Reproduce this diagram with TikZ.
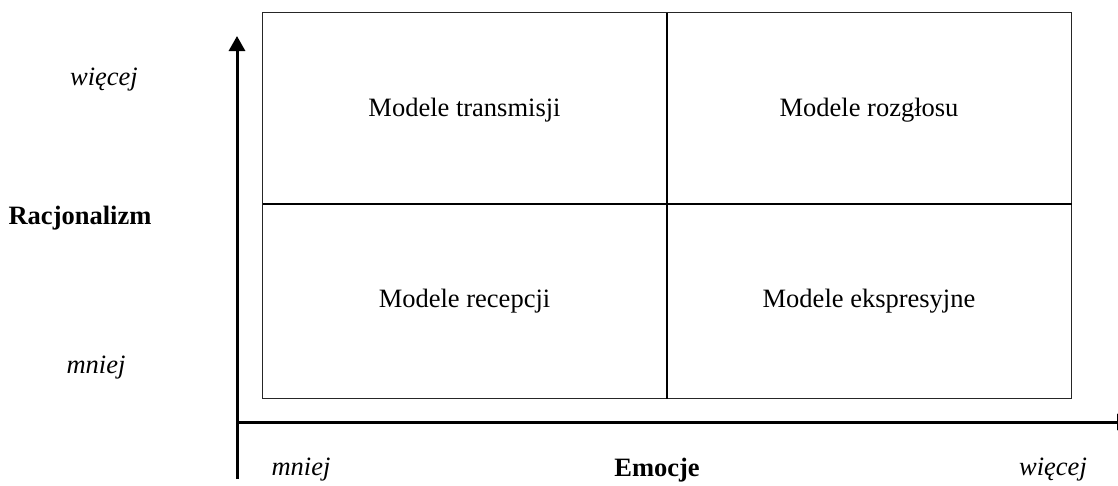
\documentclass[tikz,border=0pt]{standalone}
\usepackage{fontspec}
\setmainfont{Liberation Serif}
\usetikzlibrary{arrows.meta}
\begin{document}
\begin{tikzpicture}[x=1pt,y=-1pt,
  lbl/.style={font=\fontsize{26.5}{30}\selectfont, inner sep=0pt},
  axislbl/.style={lbl, font=\fontsize{26.5}{30}\selectfont\bfseries},
  endlbl/.style={lbl, font=\fontsize{26.5}{30}\selectfont\itshape},
  frame/.style={line width=1.3pt, black!85},
  divider/.style={line width=2pt, black},
  axis/.style={line width=3pt, -{Triangle[length=15pt,width=16pt]}}]
\useasboundingbox (0,0) rectangle (1118,485);
\clip (0,0) rectangle (1118,485);

% quadrant frame
\coordinate (nw) at (262.5,12.5);
\coordinate (se) at (1071.5,398.5);
\draw[frame] (nw) rectangle (se);
\coordinate (mt) at (667,12.5);
\coordinate (mb) at (667,398.5);
\coordinate (ml) at (262.5,204);
\coordinate (mr) at (1071.5,204);
\draw[divider] (mt) -- (mb);
\draw[divider] (ml) -- (mr);

% quadrant labels
\node[lbl] (q1) at (464.5,110) {Modele transmisji};
\node[lbl] (q2) at (869,110) {Modele rozgłosu};
\node[lbl] (q3) at (464.5,301) {Modele recepcji};
\node[lbl] (q4) at (869,301) {Modele ekspresyjne};

% axes
\coordinate (yo) at (237,479);
\coordinate (ytip) at (237,36);
\coordinate (xo) at (237,422);
\coordinate (xtip) at (1132,422);
\draw[axis] (yo) -- (ytip);
\draw[axis] (xo) -- (xtip);

% axis labels
\node[endlbl] (ymore) at (104,80) {więcej};
\node[axislbl] (yname) at (80,218) {Racjonalizm};
\node[endlbl] (yless) at (96,368) {mniej};
\node[endlbl] (xless) at (301,470) {mniej};
\node[axislbl] (xname) at (657,470) {Emocje};
\node[endlbl] (xmore) at (1053,470) {więcej};
\end{tikzpicture}
\end{document}
